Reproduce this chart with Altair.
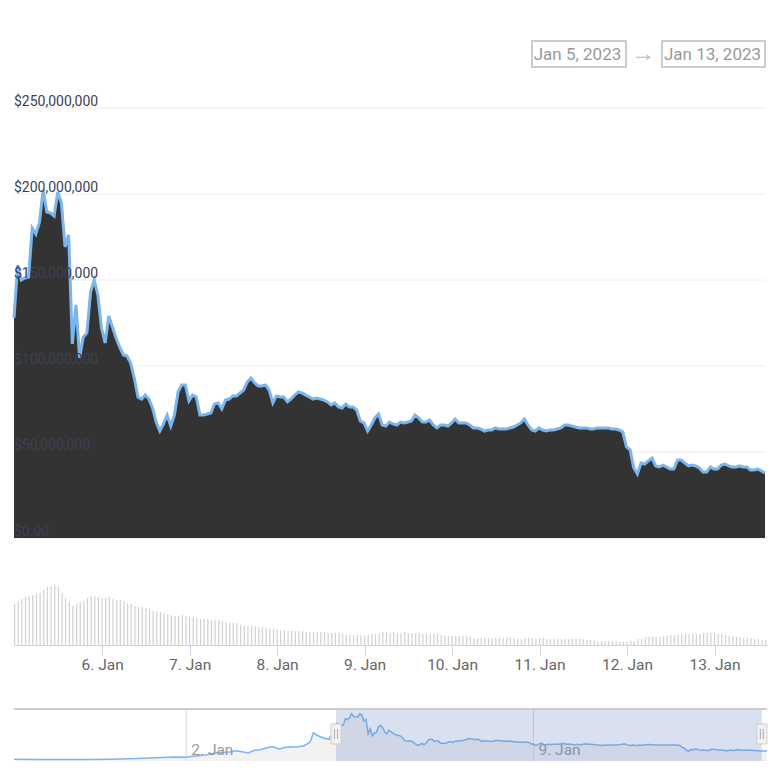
import pandas as pd
import altair as alt


def ms(text):
    return int(pd.Timestamp(text, tz="UTC").value // 10**6)


# market cap in millions of dollars, one value per hour from 5 Jan 00:00 UTC
market_cap = [
    127.9, 158.7, 150.0, 151.2, 151.7, 180.2, 176.7, 183.7, 202.3, 189.5, 189.0, 187.2,
    201.2, 194.8, 169.2, 176.2, 112.8, 135.5, 104.7, 116.9, 119.2, 143.0, 150.0, 141.3,
    122.1, 113.4, 129.1, 122.7, 116.3, 111.0, 106.4, 105.8, 101.7, 93.0, 82.0, 80.8,
    83.1, 80.8, 75.6, 67.4, 62.2, 66.3, 71.5, 65.1, 71.5, 84.9, 89.0, 89.0,
    79.7, 83.1, 82.0, 71.5, 71.5, 72.1, 72.7, 77.9, 78.5, 75.0, 80.2, 80.8,
    82.6, 82.6, 84.3, 86.0, 90.7, 93.0, 90.1, 88.4, 88.4, 89.0, 86.0, 78.5,
    82.6, 82.0, 82.0, 79.1, 80.8, 83.1, 84.9, 84.3, 83.1, 82.0, 80.8, 81.4,
    80.8, 80.2, 79.1, 77.3, 78.5, 76.2, 75.6, 77.9, 76.2, 76.2, 74.4, 68.0,
    66.9, 62.2, 65.7, 69.8, 72.1, 65.7, 65.1, 67.4, 66.3, 65.7, 67.4, 66.9,
    67.4, 68.0, 71.5, 69.8, 67.4, 67.4, 68.6, 65.7, 64.0, 65.7, 65.7, 65.1,
    66.9, 69.2, 66.9, 66.9, 66.9, 65.7, 64.0, 64.0, 63.4, 62.2, 62.8, 62.8,
    64.0, 63.4, 63.4, 63.4, 64.0, 64.5, 65.7, 66.9, 69.2, 65.7, 62.8, 62.2,
    64.0, 62.8, 62.2, 62.8, 62.8, 63.4, 64.0, 65.7, 65.7, 65.1, 64.5, 64.0,
    64.0, 64.0, 63.4, 63.4, 64.0, 64.0, 64.0, 64.0, 63.4, 63.4, 62.8, 61.6,
    52.9, 51.2, 40.7, 37.2, 43.6, 43.0, 44.8, 46.5, 41.9, 41.3, 42.4, 41.3,
    40.1, 40.1, 45.3, 45.3, 43.6, 41.9, 42.4, 41.9, 40.7, 38.4, 38.4, 41.3,
    40.1, 40.1, 42.4, 43.0, 41.9, 41.3, 41.3, 41.9, 41.3, 41.3, 39.5, 39.5,
    40.1, 39.0, 37.8,
]

volume = [
    41, 44, 46, 48, 49, 50, 51, 52, 55, 58, 59, 60,
    58, 52, 47, 43, 39, 41, 43, 44, 47, 49, 49, 48,
    47, 47, 48, 46, 45, 45, 44, 42, 41, 39, 38, 38,
    37, 36, 34, 34, 33, 32, 31, 30, 29, 29, 30, 29,
    28, 28, 27, 26, 26, 26, 25, 25, 25, 24, 23, 22,
    22, 22, 20, 19, 19, 19, 19, 18, 18, 17, 16, 16,
    15, 15, 15, 14, 14, 14, 14, 14, 13, 13, 13, 13,
    13, 13, 12, 12, 12, 12, 11, 10, 10, 10, 10, 10,
    10, 10, 11, 11, 12, 13, 13, 12, 13, 12, 12, 13,
    12, 12, 12, 12, 11, 11, 11, 11, 11, 10, 10, 9,
    9, 9, 9, 9, 9, 8, 7, 7, 7, 7, 7, 7,
    7, 7, 7, 7, 7, 7, 6, 6, 7, 7, 7, 7,
    7, 7, 6, 6, 6, 6, 6, 6, 6, 6, 6, 6,
    6, 5, 5, 5, 4, 4, 4, 4, 4, 4, 3, 3,
    3, 4, 4, 6, 6, 8, 8, 8, 8, 8, 9, 10,
    10, 10, 10, 11, 11, 11, 11, 11, 11, 12, 12, 12,
    12, 11, 11, 10, 9, 9, 8, 8, 7, 7, 7, 6,
    6, 5, 5,
]

# navigator history before the selected range
nav_times = [
    "2022-12-29T12:40:00Z", "2022-12-30T00:00:00Z", "2022-12-30T12:00:00Z", "2022-12-31T00:00:00Z",
    "2022-12-31T12:00:00Z", "2023-01-01T00:00:00Z", "2023-01-01T12:00:00Z", "2023-01-01T18:00:00Z",
    "2023-01-02T00:00:00Z", "2023-01-02T03:00:00Z", "2023-01-02T06:00:00Z", "2023-01-02T09:00:00Z",
    "2023-01-02T12:00:00Z", "2023-01-02T15:00:00Z", "2023-01-02T18:00:00Z", "2023-01-02T21:00:00Z",
    "2023-01-03T00:00:00Z", "2023-01-03T03:00:00Z", "2023-01-03T06:00:00Z", "2023-01-03T09:00:00Z",
    "2023-01-03T12:00:00Z", "2023-01-03T15:00:00Z", "2023-01-03T18:00:00Z", "2023-01-03T21:00:00Z",
    "2023-01-04T00:00:00Z", "2023-01-04T03:00:00Z", "2023-01-04T06:00:00Z", "2023-01-04T09:00:00Z",
    "2023-01-04T12:00:00Z", "2023-01-04T13:30:00Z", "2023-01-04T15:00:00Z", "2023-01-04T18:00:00Z",
    "2023-01-04T21:00:00Z",
]
nav_history = [
    0.8, 0.5, 0.3, 0.5, 1.5, 4.0, 9.0, 11.0,
    9.7, 14.1, 16.8, 19.9, 24.3, 30.0, 31.8, 33.1,
    38.8, 34.4, 28.7, 40.6, 43.2, 52.0, 56.5, 46.3,
    53.8, 55.1, 56.5, 60.9, 77.0, 118.0, 108.0, 96.2,
    89.1,
]

y_ticks = [0, 50, 100, 150, 200, 250]
y_labels = ["$0.00", "$50,000,000", "$100,000,000", "$150,000,000", "$200,000,000", "$250,000,000"]
day_ticks = ["2023-01-06", "2023-01-07", "2023-01-08", "2023-01-09", "2023-01-10", "2023-01-11", "2023-01-12", "2023-01-13"]

hours = pd.date_range("2023-01-05", periods=len(market_cap), freq="h", tz="UTC").strftime("%Y-%m-%dT%H:%M:%SZ")
prices = pd.DataFrame({"time": hours, "cap": market_cap, "volume": volume})
nav = pd.DataFrame({
    "time": nav_times + list(hours) + ["2023-01-13T17:00:00Z"],
    "cap": nav_history + market_cap + [37.0],
})
y_text = pd.DataFrame({"tick": y_ticks, "label": y_labels})

# header with the range inputs
box_scale_x = alt.Scale(domain=[0, 753], nice=False)
box_scale_y = alt.Scale(domain=[59, 0], nice=False)
boxes = pd.DataFrame({"x": [518, 648], "x2": [612, 751], "y": [33, 33], "y2": [59, 59]})
box_text = pd.DataFrame({
    "x": [563.5, 698.5], "y": [46.5, 46.5],
    "label": ["Jan 5, 2023", "Jan 13, 2023"],
})
arrow_text = pd.DataFrame({"x": [629], "y": [46], "label": ["→"]})
header_rect = alt.Chart(boxes).mark_rect(fill="white", stroke="#cccccc", strokeWidth=2).encode(
    x=alt.X("x:Q", scale=box_scale_x, axis=None),
    x2="x2:Q",
    y=alt.Y("y:Q", scale=box_scale_y, axis=None),
    y2="y2:Q",
)
header_label = alt.Chart(box_text).mark_text(fontSize=17, color="#999999", align="center", baseline="middle").encode(
    x=alt.X("x:Q", scale=box_scale_x, axis=None),
    y=alt.Y("y:Q", scale=box_scale_y, axis=None),
    text="label:N",
)
header_arrow = alt.Chart(arrow_text).mark_text(fontSize=24, color="#bbbbbb", align="center", baseline="middle").encode(
    x=alt.X("x:Q", scale=box_scale_x, axis=None),
    y=alt.Y("y:Q", scale=box_scale_y, axis=None),
    text="label:N",
)
header = (header_rect + header_label + header_arrow).properties(width=753, height=59)

# main market cap chart
main_x = alt.Scale(type="utc", domain=[ms("2023-01-05"), ms("2023-01-13T14:00:00")], nice=False)
main_y = alt.Scale(domain=[0, 250], nice=False)

grid = alt.Chart(y_text).mark_rule(color="#eeeeee", strokeWidth=1).encode(
    y=alt.Y("tick:Q", scale=main_y, axis=None),
)
area = alt.Chart(prices).mark_area(color="#333333", opacity=1).encode(
    x=alt.X("time:T", scale=main_x, axis=None),
    y=alt.Y("cap:Q", scale=main_y, axis=None),
)
line = alt.Chart(prices).mark_line(color="#7cb5ec", strokeWidth=3).encode(
    x=alt.X("time:T", scale=main_x, axis=None),
    y=alt.Y("cap:Q", scale=main_y, axis=None),
)
labels = alt.Chart(y_text).mark_text(
    align="left", baseline="middle", dy=-6, fontSize=14, color="#3a4252"
).encode(
    x=alt.value(0),
    y=alt.Y("tick:Q", scale=main_y, axis=None),
    text="label:N",
)
main = (grid + area + line + labels).properties(width=751, height=430)

# volume bars
vol_x = alt.Scale(type="utc", domain=[ms("2023-01-04T23:50:00"), ms("2023-01-13T14:23:00")], nice=False, padding=0)
vol = alt.Chart(prices).mark_bar(size=1.2, color="#d0d0d0").encode(
    x=alt.X(
        "time:T",
        scale=vol_x,
        axis=alt.Axis(
            title=None, grid=False, values=[ms(d) for d in day_ticks], format="%-d. Jan",
            domainColor="#ccd6eb", tickColor="#ccd6eb", tickSize=10, labelColor="#666666",
            labelFontSize=15.5, labelPadding=2, labelFlush=False,
        ),
    ),
    y=alt.Y("volume:Q", scale=alt.Scale(domain=[0, 66], nice=False), axis=None),
).properties(width=753, height=66)

# navigator
nav_x = alt.Scale(type="utc", domain=[ms("2022-12-29T12:40:00"), ms("2023-01-13T17:00:00")], nice=False)
nav_y = alt.Scale(domain=[-6.6, 324], nice=False)
nav_top = 222.8
nav_bottom = -6.6

nav_area = alt.Chart(nav).mark_area(color="#f2f2f2", opacity=1).encode(
    x=alt.X("time:T", scale=nav_x, axis=None),
    y=alt.Y("cap:Q", scale=nav_y, axis=None),
    y2=alt.Y2(datum=nav_bottom),
)
nav_top_line = alt.Chart(pd.DataFrame({"v": [nav_top]})).mark_rule(color="#cccccc", strokeWidth=2).encode(
    y=alt.Y("v:Q", scale=nav_y, axis=None),
)
nav_grid = alt.Chart(pd.DataFrame({"time": ["2023-01-02T00:00:00Z", "2023-01-09T00:00:00Z"], "top": [nav_top] * 2, "bottom": [nav_bottom] * 2})).mark_rule(
    color="#d8d8d8", strokeWidth=1
).encode(
    x=alt.X("time:T", scale=nav_x, axis=None),
    y=alt.Y("top:Q", scale=nav_y, axis=None),
    y2="bottom:Q",
)
nav_line = alt.Chart(nav).mark_line(color="#7cb5ec", strokeWidth=1.5).encode(
    x=alt.X("time:T", scale=nav_x, axis=None),
    y=alt.Y("cap:Q", scale=nav_y, axis=None),
)
nav_text = alt.Chart(pd.DataFrame({"time": ["2023-01-02T00:00:00Z", "2023-01-09T00:00:00Z"], "v": [42, 42], "label": ["2. Jan", "9. Jan"]})).mark_text(
    align="left", baseline="middle", dx=5, fontSize=15.5, color="#999999"
).encode(
    x=alt.X("time:T", scale=nav_x, axis=None),
    y=alt.Y("v:Q", scale=nav_y, axis=None),
    text="label:N",
)
selected = alt.Chart(pd.DataFrame({
    "start": ["2023-01-05T00:30:00Z"], "end": ["2023-01-13T14:30:00Z"], "top": [nav_top], "bottom": [nav_bottom],
})).mark_rect(color="#6685c2", opacity=0.25).encode(
    x=alt.X("start:T", scale=nav_x, axis=None),
    x2="end:T",
    y=alt.Y("top:Q", scale=nav_y, axis=None),
    y2="bottom:Q",
)
handles_df = pd.DataFrame({"time": ["2023-01-05T00:30:00Z", "2023-01-13T14:30:00Z"], "v": [112.5, 112.5]})
handles = alt.Chart(handles_df).mark_rect(width=10, height=20, fill="#f2f2f2", stroke="#cccccc", strokeWidth=1).encode(
    x=alt.X("time:T", scale=nav_x, axis=None),
    y=alt.Y("v:Q", scale=nav_y, axis=None),
)
grip_a = alt.Chart(handles_df).mark_rect(width=1, height=10, color="#aaaaaa", xOffset=-1.5).encode(
    x=alt.X("time:T", scale=nav_x, axis=None),
    y=alt.Y("v:Q", scale=nav_y, axis=None),
)
grip_b = alt.Chart(handles_df).mark_rect(width=1, height=10, color="#aaaaaa", xOffset=1.5).encode(
    x=alt.X("time:T", scale=nav_x, axis=None),
    y=alt.Y("v:Q", scale=nav_y, axis=None),
)
navigator = (nav_area + nav_grid + nav_line + nav_text + selected + nav_top_line + handles + grip_a + grip_b).properties(width=753, height=75)

chart = alt.vconcat(header, main, vol, navigator, spacing=41, bounds="flush").properties(
    padding={"left": 0, "top": 0, "right": 0, "bottom": 0},
    background="white",
).configure(font="Roboto").configure_view(stroke=None)

chart.save("out.html", embed_options={"renderer": "svg", "actions": False})
